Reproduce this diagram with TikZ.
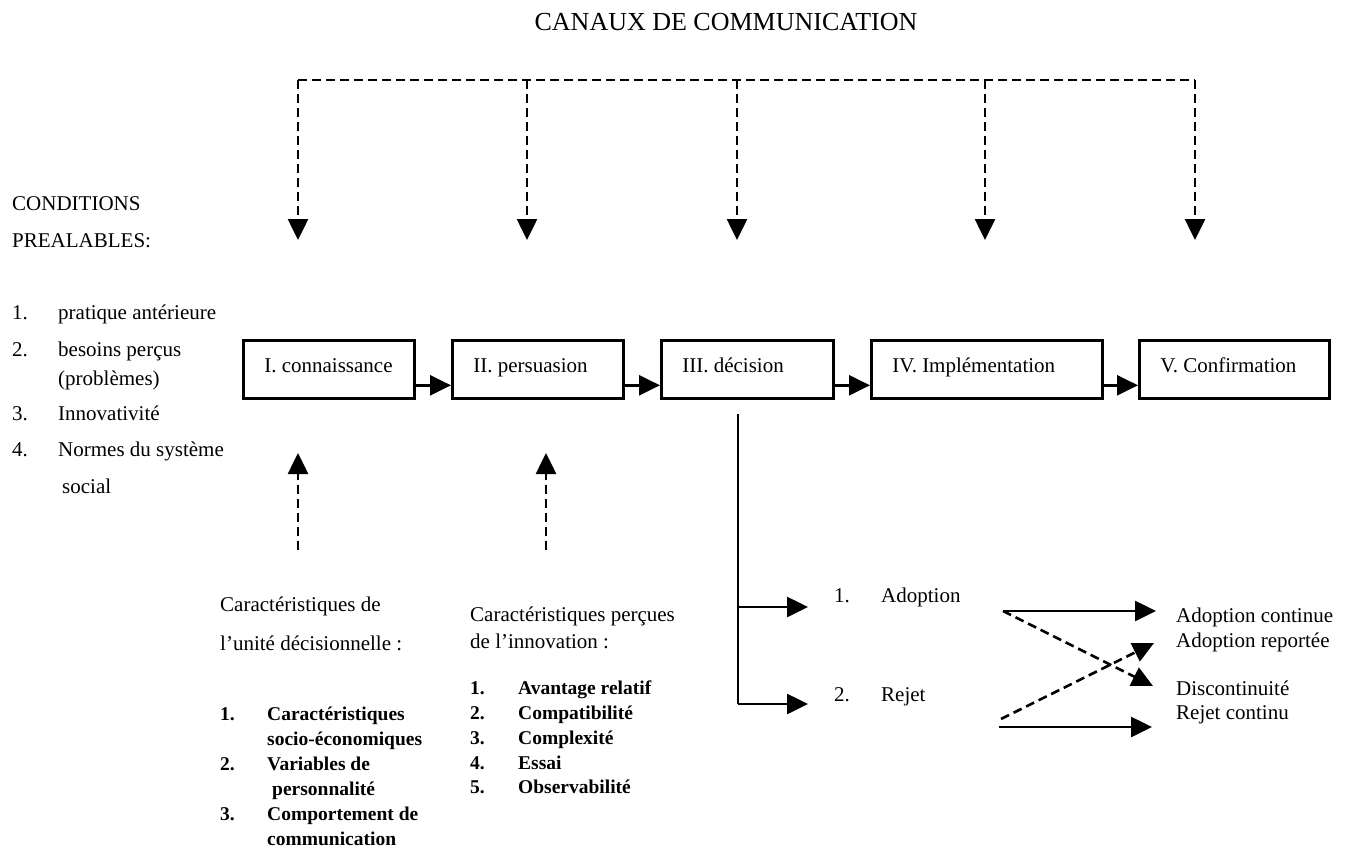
\documentclass[tikz,border=0pt]{standalone}
\usepackage{fontspec}
\setmainfont{Liberation Serif}
\usetikzlibrary{arrows.meta}
\newcommand\fsbody{\fontsize{21}{25}\selectfont}
\newcommand\fslist{\fontsize{19.5}{24}\selectfont\bfseries}
\newcommand\fstitle{\fontsize{26}{30}\selectfont}
\newcommand\itm[2]{\makebox[#1][l]{#2}}
\begin{document}
\begin{tikzpicture}[x=1pt,y=-1pt,
  txt/.style={anchor=base west,inner sep=0pt,font=\fsbody},
  lst/.style={anchor=base west,inner sep=0pt,font=\fslist},
  stage/.style={draw,line width=2.6pt,minimum height=58pt,inner xsep=21pt,inner ysep=0pt,text height=13pt,text depth=7pt,font=\fsbody,anchor=north west},
  flow/.style={line width=2.6pt,-{Triangle[length=21pt,width=20pt]}},
  dflow/.style={flow,dash pattern=on 9pt off 5pt},
  dline/.style={line width=2.6pt,dash pattern=on 9pt off 5pt},
  sline/.style={line width=2.6pt}]
\fill[white] (0,0) rectangle (1347,849);
\useasboundingbox (0,0) rectangle (1347,849);

% title
\node[font=\fstitle,inner sep=0pt] (title) at (726,22) {CANAUX DE COMMUNICATION};

% communication channels
\coordinate (h1) at (298,80);
\coordinate (h2) at (527,80);
\coordinate (h3) at (737,80);
\coordinate (h4) at (985,80);
\coordinate (h5) at (1195,80);
\coordinate (a1) at (298,240);
\coordinate (a2) at (527,240);
\coordinate (a3) at (737,240);
\coordinate (a4) at (985,240);
\coordinate (a5) at (1195,240);
\draw[dline] (h1) -- (h5);
\foreach \i in {1,...,5} \draw[dflow] (h\i) -- (a\i);

% prior conditions
\node[txt] (cond1) at (12,210) {CONDITIONS};
\node[txt] (cond2) at (12,247) {PREALABLES:};
\node[txt] (p1) at (12,319) {\itm{46pt}{1.}pratique antérieure};
\node[txt] (p2) at (12,356) {\itm{46pt}{2.}besoins perçus};
\node[txt] (p2b) at (58,385) {(problèmes)};
\node[txt] (p3) at (12,420) {\itm{46pt}{3.}Innovativité};
\node[txt] (p4) at (12,456) {\itm{46pt}{4.}Normes du système};
\node[txt] (p4b) at (62,493) {social};

% stages
\node[stage] (s1) at (242,339) {\itm{129pt}{I. connaissance}};
\node[stage] (s2) at (451,339) {\itm{129pt}{II. persuasion}};
\node[stage] (s3) at (660,339) {\itm{130pt}{III. décision}};
\node[stage] (s4) at (870,339) {\itm{189pt}{IV. Implémentation}};
\node[stage] (s5) at (1138,339) {\itm{148pt}{V. Confirmation}};
\foreach \a/\b in {s1/s2,s2/s3,s3/s4,s4/s5}
  \draw[flow] ([yshift=-16pt]\a.east) -- ([yshift=-16pt]\b.west);

% upward influences
\coordinate (u1) at (298,550);
\coordinate (u1t) at (298,453);
\coordinate (u2) at (546,550);
\coordinate (u2t) at (546,453);
\draw[dflow] (u1) -- (u1t);
\draw[dflow] (u2) -- (u2t);

% decision unit characteristics
\node[txt] (k1) at (220,611) {Caractéristiques de};
\node[txt] (k2) at (220,650) {l’unité décisionnelle :};
\node[lst] (k3) at (220,720) {\itm{47pt}{1.}Caractéristiques};
\node[lst] (k4) at (267,745) {socio-économiques};
\node[lst] (k5) at (220,770) {\itm{47pt}{2.}Variables de};
\node[lst] (k6) at (272,795) {personnalité};
\node[lst] (k7) at (220,820) {\itm{47pt}{3.}Comportement de};
\node[lst] (k8) at (267,845) {communication};

% perceived characteristics
\node[txt] (c1) at (470,621) {Caractéristiques perçues};
\node[txt] (c2) at (470,648) {de l’innovation :};
\node[lst] (c3) at (470,694) {\itm{48pt}{1.}Avantage relatif};
\node[lst] (c4) at (470,719) {\itm{48pt}{2.}Compatibilité};
\node[lst] (c5) at (470,744) {\itm{48pt}{3.}Complexité};
\node[lst] (c6) at (470,769) {\itm{48pt}{4.}Essai};
\node[lst] (c7) at (470,793) {\itm{48pt}{5.}Observabilité};

% decision branches
\coordinate (d0) at (738,414);
\coordinate (d1) at (738,607);
\coordinate (d2) at (738,704);
\coordinate (d1t) at (808,607);
\coordinate (d2t) at (808,704);
\draw[sline] (d0) -- (d2);
\draw[flow] (d1) -- (d1t);
\draw[flow] (d2) -- (d2t);
\node[txt] (ad) at (834,602) {\itm{47pt}{1.}Adoption};
\node[txt] (rj) at (834,701) {\itm{47pt}{2.}Rejet};

% outcomes
\coordinate (o1) at (1003,611);
\coordinate (o1t) at (1156,611);
\coordinate (o2t) at (1153,686);
\coordinate (o3) at (1001,719);
\coordinate (o3t) at (1154,643);
\coordinate (o4) at (999,727);
\coordinate (o4t) at (1152,727);
\draw[flow] (o1) -- (o1t);
\draw[dflow] (o1) -- (o2t);
\draw[dflow] (o3) -- (o3t);
\draw[flow] (o4) -- (o4t);
\node[txt] (r1) at (1176,622) {Adoption continue};
\node[txt] (r2) at (1176,647) {Adoption reportée};
\node[txt] (r3) at (1176,695) {Discontinuité};
\node[txt] (r4) at (1176,719) {Rejet continu};
\end{tikzpicture}
\end{document}
